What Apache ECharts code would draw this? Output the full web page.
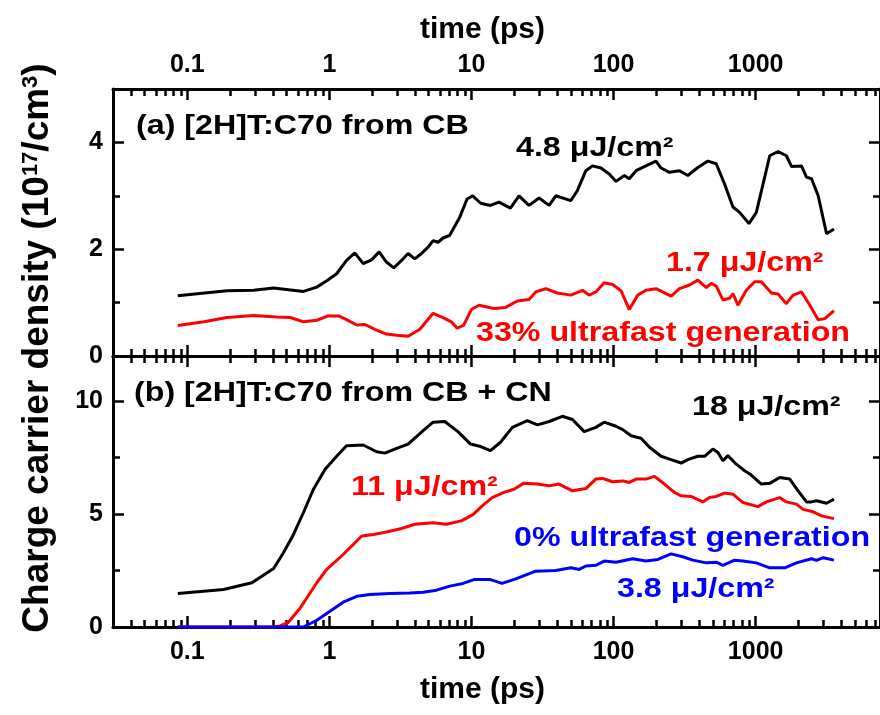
<!DOCTYPE html>
<html>
<head>
<meta charset="utf-8">
<script src="https://cdn.jsdelivr.net/npm/echarts@6/dist/echarts.min.js"></script>
<style>html,body{margin:0;padding:0;background:#fff}#c{width:880px;height:715px}</style>
</head>
<body>
<div id="c"></div>
<script>
// ---- data (time in ps, density in 1e17 cm^-3) ----
var topBlackT = [0.0857,0.19,0.293,0.405,0.657,0.815,0.958,1.125,1.32,1.51,1.73,1.98,2.24,2.52,2.84,3.22,3.58,3.99,4.45,4.95,5.37,5.82,6.31,7.03,8.27,9.31,10.2,11.6,13.6,15.6,18.8,21.6,25.4,29.9,35.2,39.2,50.0,55.7,63.8,71.1,81.5,93.2,104,119,129,144,169,199,216,247,291,333,392,461,528,604,692,771,897,1011,1127,1256,1438,1645,1786,2100,2278,2473,2754,3155,3556];
var topBlackV = [1.13,1.22,1.23,1.275,1.21,1.29,1.41,1.54,1.79,1.93,1.73,1.80,1.95,1.76,1.65,1.79,1.92,1.82,1.92,2.04,2.16,2.13,2.21,2.26,2.60,2.94,3.00,2.86,2.82,2.88,2.77,3.00,2.82,2.96,2.82,3.00,2.91,3.10,3.47,3.56,3.52,3.41,3.27,3.38,3.32,3.47,3.56,3.65,3.52,3.44,3.47,3.38,3.53,3.65,3.60,3.22,2.79,2.69,2.48,2.69,3.22,3.75,3.83,3.75,3.55,3.56,3.35,3.32,3.00,2.29,2.38];

var topRedT = [0.0857,0.131,0.19,0.293,0.427,0.53,0.657,0.815,0.98,1.16,1.32,1.56,1.78,2.09,2.52,2.97,3.58,4.33,5.37,6.31,7.21,7.93,8.83,9.97,11.3,14.4,17.4,21.0,25.4,28.3,33.3,40.2,50.0,60.4,67.3,75.0,85.9,98.4,113,129,148,169,199,254,291,342,392,449,486,528,588,655,692,750,859,984,1096,1291,1438,1645,1835,2100,2405,2754,3069,3556];
var topRedV = [0.57,0.64,0.72,0.76,0.73,0.72,0.64,0.67,0.75,0.75,0.68,0.58,0.59,0.50,0.41,0.39,0.37,0.50,0.80,0.72,0.64,0.52,0.58,0.87,0.95,0.89,0.91,1.03,1.06,1.20,1.26,1.18,1.14,1.23,1.14,1.20,1.37,1.34,1.22,0.87,1.14,1.23,1.26,1.12,1.26,1.33,1.42,1.28,1.36,1.31,1.05,1.08,1.17,0.95,1.23,1.39,1.39,1.18,1.16,0.98,1.14,1.20,0.95,0.68,0.70,0.85];

var botBlackT = [0.0857,0.18,0.285,0.405,0.475,0.559,0.657,0.772,0.933,1.125,1.32,1.73,2.15,2.46,2.97,3.58,4.57,5.37,6.48,8.03,9.84,11.6,13.6,16.0,19.4,24.7,29.1,35.2,43.6,51.4,62.1,75.0,85.9,104,116,133,156,179,216,254,299,333,392,437,500,543,588,638,731,836,931,1096,1256,1476,1738,1990,2278,2473,2680,3155,3556];
var botBlackV = [1.48,1.66,1.96,2.59,3.29,4.10,5.07,6.10,6.99,7.56,8.03,8.06,7.76,7.70,7.91,8.10,8.70,9.07,9.10,8.65,8.10,7.99,7.81,8.18,8.84,9.14,8.95,9.10,9.33,9.19,8.65,8.84,9.07,8.89,8.74,8.47,8.36,7.96,7.56,7.41,7.26,7.41,7.56,7.56,7.88,7.73,7.36,7.59,7.21,6.92,6.73,6.33,6.36,6.62,6.55,6.03,5.54,5.54,5.59,5.48,5.66];

var botRedT = [0.0857,0.405,0.45,0.515,0.623,0.815,0.958,1.25,1.69,2.04,2.52,3.22,3.99,5.37,6.66,8.48,10.3,11.9,14.0,16.9,19.9,23.4,29.1,35.2,41.3,51.4,63.8,75.0,83.6,98.4,116,129,144,169,194,228,268,299,351,425,473,528,604,692,814,1038,1189,1476,1645,1936,2158,2541,2911,3556];
var botRedV = [0,0,0.05,0.21,0.84,1.96,2.55,3.21,4.03,4.10,4.21,4.36,4.55,4.62,4.55,4.70,4.99,5.36,5.73,5.96,6.10,6.37,6.33,6.25,6.33,6.03,6.13,6.55,6.58,6.43,6.47,6.40,6.55,6.55,6.67,6.33,5.96,5.81,5.78,5.54,5.73,5.78,5.93,5.88,5.51,5.33,5.54,5.73,5.54,5.44,5.21,5.10,4.92,4.80];

var botBlueT = [0.0857,0.657,0.815,1.01,1.25,1.56,1.93,2.66,3.68,4.57,5.67,7.04,8.72,10.4,13.6,16.4,20.5,28.3,39.2,50,57.3,63.8,75,85.9,104,136,169,205,254,307,361,449,528,588,711,814,1011,1256,1603,1936,2473,2680,2985,3556];
var botBlueV = [0,0,0.30,0.70,1.10,1.36,1.44,1.48,1.51,1.54,1.63,1.81,1.93,2.10,2.10,1.93,2.13,2.47,2.50,2.62,2.55,2.70,2.73,2.92,2.87,3.02,2.92,2.99,3.24,3.11,2.96,2.84,2.87,2.73,2.96,2.92,2.84,2.62,2.62,2.84,3.02,2.95,3.07,2.96];

// ---- axes ----
var xMin = 0.03, xMax = 7500;
var xMajorTicks = [0.1, 1, 10, 100, 1000];
var xTickLabels = ['0.1', '1', '10', '100', '1000'];
var yTopMajor = [0, 2, 4], yTopMinor = [1, 3], yTopMax = 5;
var yBotMajor = [0, 5, 10], yBotMinor = [2.5, 7.5], yBotMax = 12;

var xMinor = [];
[0.01, 0.1, 1, 10, 100, 1000].forEach(function (d) {
  for (var k = 2; k <= 9; k++) { var v = k * d; if (v > xMin && v < xMax) xMinor.push(v); }
});
var L = Math.log10;
var lMajor = xMajorTicks.map(L), lMinor = xMinor.map(L);

function pairs(t, v) { return t.map(function (x, i) { return [x, v[i]]; }); }

var FONT = '"Liberation Sans", Arial, Helvetica, sans-serif';
var AXW = 3, TKW = 2.5, MAJ = 11, MIN = 7;

function tickAxis(grid, pos, vals, len, showLine, labels, extra) {
  var isX = (pos === 'top' || pos === 'bottom');
  var a = {
    gridIndex: grid, type: 'value', position: pos,
    min: isX ? L(xMin) : 0, max: isX ? L(xMax) : (grid === 0 ? yTopMax : yBotMax),
    axisLine: { show: showLine, onZero: false, lineStyle: { color: '#000', width: AXW } },
    axisTick: { show: true, inside: true, length: len, customValues: vals, lineStyle: { color: '#000', width: TKW } },
    axisLabel: { show: false },
    splitLine: { show: false }
  };
  if (labels) {
    a.axisLabel = {
      show: true, customValues: labels.values, formatter: labels.formatter,
      fontFamily: FONT, fontWeight: 'bold', fontSize: 25, color: '#000', margin: labels.margin
    };
  }
  if (extra) for (var k in extra) a[k] = extra[k];
  return a;
}
function xFmt(v) { var i = lMajor.findIndex(function (m) { return Math.abs(m - v) < 1e-6; }); return i >= 0 ? xTickLabels[i] : ''; }
function yFmt(v) { return String(v); }

var nameStyle = { fontFamily: FONT, fontWeight: 'bold', fontSize: 30, color: '#000', padding: [0, 28, 0, 0] };

var xAxes = [
  { gridIndex: 0, type: 'log', min: xMin, max: xMax, show: false },
  { gridIndex: 1, type: 'log', min: xMin, max: xMax, show: false },
  tickAxis(0, 'top', lMajor, MAJ, true, { values: lMajor, formatter: xFmt, margin: 11 },
    { name: 'time (ps)', nameLocation: 'middle', nameGap: 44, nameTextStyle: nameStyle }),
  tickAxis(0, 'top', lMinor, MIN, false),
  tickAxis(0, 'bottom', lMajor, MAJ, true),
  tickAxis(0, 'bottom', lMinor, MIN, false),
  tickAxis(1, 'top', lMajor, MAJ, true),
  tickAxis(1, 'top', lMinor, MIN, false),
  tickAxis(1, 'bottom', lMajor, MAJ, true, { values: lMajor, formatter: xFmt, margin: 13 },
    { name: 'time (ps)', nameLocation: 'middle', nameGap: 48, nameTextStyle: nameStyle }),
  tickAxis(1, 'bottom', lMinor, MIN, false)
];
var yAxes = [
  tickAxis(0, 'left', yTopMajor, MAJ, true, { values: yTopMajor, formatter: yFmt, margin: 10 }),
  tickAxis(0, 'left', yTopMinor, MIN, false),
  tickAxis(0, 'right', yTopMajor, MAJ, true),
  tickAxis(0, 'right', yTopMinor, MIN, false),
  tickAxis(1, 'left', yBotMajor, MAJ, true, { values: yBotMajor, formatter: yFmt, margin: 10 }),
  tickAxis(1, 'left', yBotMinor, MIN, false),
  tickAxis(1, 'right', yBotMajor, MAJ, true),
  tickAxis(1, 'right', yBotMinor, MIN, false)
];

function line(name, xi, yi, t, v, color) {
  return { name: name, type: 'line', xAxisIndex: xi, yAxisIndex: yi, data: pairs(t, v),
    showSymbol: false, symbol: 'none', smooth: false, animation: false,
    lineStyle: { color: color, width: 3 }, itemStyle: { color: color } };
}

function note(text, x, y, color, sx) {
  return { type: 'text', x: x, y: y, scaleX: sx || 1.15, z: 100,
    style: { text: text, fill: color, fontFamily: FONT, fontWeight: 'bold', fontSize: 28,
      textAlign: 'left', textVerticalAlign: 'middle', align: 'left', verticalAlign: 'middle' } };
}

var option = {
  backgroundColor: '#fff',
  animation: false,
  grid: [
    { left: 113, right: -2, top: 89, height: 267 },
    { left: 113, right: -2, top: 356, height: 271 }
  ],
  xAxis: xAxes,
  yAxis: yAxes,
  series: [
    line('4.8 μJ/cm²', 0, 0, topBlackT, topBlackV, '#000000'),
    line('1.7 μJ/cm²', 0, 0, topRedT, topRedV, '#ff0000'),
    line('18 μJ/cm²', 1, 4, botBlackT, botBlackV, '#000000'),
    line('11 μJ/cm²', 1, 4, botRedT, botRedV, '#ff0000'),
    line('3.8 μJ/cm²', 1, 4, botBlueT, botBlueV, '#0000ff')
  ],
  graphic: [
    note('(a) [2H]T:C70 from CB', 136, 126, '#000'),
    note('4.8 μJ/cm²', 516, 148, '#000'),
    note('1.7 μJ/cm²', 666, 263, '#ff0000'),
    note('33% ultrafast generation', 476, 333, '#ff0000'),
    note('(b) [2H]T:C70 from CB + CN', 134, 393, '#000'),
    note('18 μJ/cm²', 692, 407, '#000'),
    note('11 μJ/cm²', 351, 487, '#ff0000'),
    note('0% ultrafast generation', 514, 538, '#0000ff'),
    note('3.8 μJ/cm²', 617, 589, '#0000ff'),
    { type: 'text', x: 38, y: 348, rotation: Math.PI / 2, z: 100,
      style: { text: 'Charge carrier density (10{sup|17}/cm{sup|3})', fill: '#000',
        fontFamily: FONT, fontWeight: 'bold', fontSize: 37,
        textAlign: 'center', textVerticalAlign: 'middle', align: 'center', verticalAlign: 'middle',
        rich: { sup: { fontFamily: FONT, fontWeight: 'bold', fontSize: 22, verticalAlign: 'top', fill: '#000' } } } }
  ]
};
var chart = echarts.init(document.getElementById('c'), null, { renderer: 'canvas' });
chart.setOption(option);
</script>
</body>
</html>
